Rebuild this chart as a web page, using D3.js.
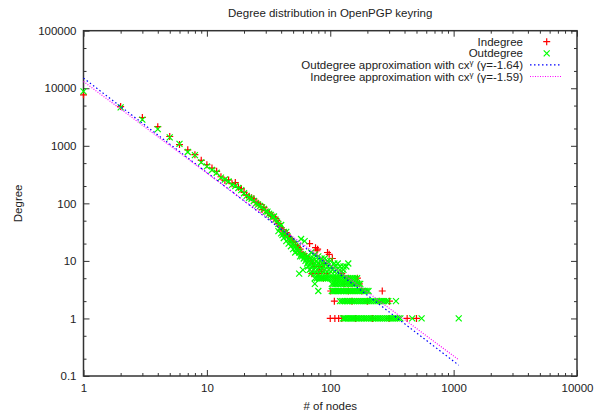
<!DOCTYPE html>
<html>
<head>
<meta charset="utf-8">
<script src="https://cdn.jsdelivr.net/npm/d3@7"></script>
<style>
  body { margin: 0; background: #fff; }
  text { font-family: "Liberation Sans", Arial, sans-serif; fill: #222; }
</style>
</head>
<body>
<div id="chart"></div>
<script>
// axis ticks
var xMajor = [1, 10, 100, 1000, 10000];
var yMajor = [0.1, 1, 10, 100, 1000, 10000, 100000];

// indegree points, [degree, count]
var inHead = [
  [1, 7700], [2, 4800], [3, 3100], [4, 2150], [5, 1450], [6, 1050], [7, 850], [8, 700], [9, 560], [10, 470],
  [11, 410], [12, 360], [13, 290], [14, 250], [15, 255], [16, 220], [17, 230], [18, 190], [19, 180], [20, 155],
  [21, 140], [22, 130], [23, 125], [24, 120], [25, 105], [26, 100], [27, 95], [28, 78], [29, 85], [30, 75],
  [31, 70], [32, 68], [33, 62], [34, 60], [35, 58], [36, 55], [37, 50], [38, 45], [39, 40], [40, 38],
  [41, 35], [42, 33], [43, 30], [44, 31], [45, 28], [46, 26], [47, 25], [48, 24], [49, 22], [50, 21],
  [52, 19], [54, 18], [55, 17], [57, 16], [58, 14], [60, 13], [62, 12], [64, 12], [66, 11], [68, 20],
  [70, 10], [71, 6], [72, 9], [74, 8], [76, 17], [78, 15], [79, 16], [80, 6], [82, 8], [85, 7],
  [88, 5], [90, 9], [94, 6], [95, 14], [98, 13], [104, 11], [110, 5], [124, 6], [140, 5], [166, 5]
];
var inY4 = [130, 150, 172];
var inY3 = [101, 140, 180, 264];
var inY2 = [108, 150, 200, 250, 302];
var inY1 = [100, 109, 117, 124, 160, 220, 300, 420, 500];

// outdegree points, [degree, count]
var outHead = [
  [1, 8800], [2, 4650], [3, 2850], [4, 1950], [5, 1400], [6, 1080], [7, 780], [8, 690], [9, 515], [10, 440],
  [11, 380], [12, 340], [13, 280], [14, 260], [15, 240], [16, 210], [17, 200], [18, 185], [19, 170], [20, 150],
  [21, 135], [22, 125], [23, 120], [24, 110], [25, 100], [26, 95], [27, 90], [28, 85], [29, 80], [30, 72],
  [31, 72], [32, 66], [33, 63], [34, 58], [35, 59], [36, 52], [37, 48], [38, 44], [39, 37], [40, 42],
  [41, 28], [42, 32], [43, 30], [44, 32], [45, 27], [46, 24], [47, 23], [48, 22], [49, 21], [50, 20],
  [51, 19], [52, 18], [53, 16], [54, 17], [55, 15], [56, 14], [58, 13], [59, 12], [60, 13],
  [38, 33], [40, 30], [42, 25], [44, 22], [46, 20], [48, 18], [50, 16], [52, 14], [58, 24], [62, 22],
  [70, 14], [75, 13], [80, 12], [85, 11], [90, 11], [95, 10], [100, 10], [108, 9], [115, 9], [120, 8],
  [57, 12], [62, 12], [66, 12], [61, 11], [64, 11], [68, 11], [73, 11],
  [63, 10], [67, 10], [72, 10], [77, 10], [83, 10],
  [65, 9], [70, 9], [75, 9], [80, 9], [86, 9], [92, 9], [140, 9],
  [66, 8], [71, 8], [76, 8], [82, 8], [88, 8], [95, 8], [102, 8], [110, 8], [128, 8], [135, 8],
  [60, 7], [68, 7], [73, 7], [78, 7], [84, 7], [90, 7], [97, 7], [104, 7], [112, 7], [120, 7], [128, 7],
  [56, 6], [70, 6], [75, 6], [80, 6], [86, 6], [92, 6], [98, 6], [105, 6], [112, 6], [119, 6], [126, 6]
];
var outY5 = [75, 78, 81, 84, 87, 90, 93, 96, 100, 104, 108, 112, 116, 120, 125, 130, 135, 140, 146, 152, 158, 165];
var outY4 = [75, 103, 106, 109, 112, 115, 119, 123, 127, 131, 135, 140, 145, 150, 155, 160, 165, 170, 175];
var outY3 = [80, 103, 106, 109, 112, 115, 118, 122, 126, 130, 134, 138, 143, 148, 153, 158, 164, 170, 176, 183, 190, 197, 204];
var outY2 = [120, 124, 128, 132, 136, 140, 145, 150, 155, 160, 166, 172, 178, 185, 192, 199, 207, 215, 224, 233,
  242, 252, 262, 273, 284, 295, 341];
var outY1 = [127, 130, 133, 136, 140, 144, 148, 152, 156, 161, 166, 171, 176, 182, 188, 194, 200, 207, 214, 221,
  228, 236, 244, 252, 261, 270, 280, 290, 300, 311, 322, 334, 346, 358, 370, 462, 550, 1100];

// fitted power laws c * x^gamma, drawn over this degree range
var fitRange = [1, 1100];
var outFit = { c: 15000, gamma: -1.64 };
var inFit = { c: 13100, gamma: -1.59 };

var indegree = inHead
  .concat(inY4.map((d) => [d, 4]), inY3.map((d) => [d, 3]), inY2.map((d) => [d, 2]), inY1.map((d) => [d, 1]));
var outdegree = outHead
  .concat(outY5.map((d) => [d, 5]), outY4.map((d) => [d, 4]), outY3.map((d) => [d, 3]),
    outY2.map((d) => [d, 2]), outY1.map((d) => [d, 1]));

var W = 595, H = 411;
var FS = "11.5px";
// plot box (note: "top" is taken by window.top)
var pL = 83.5, pR = 577, pT = 30.7, pB = 376;

var svg = d3.select("#chart").append("svg")
  .attr("width", W)
  .attr("height", H)
  .style("font-size", FS);

var x = d3.scaleLog().domain([1, 10000]).range([pL, pR]);
var y = d3.scaleLog().domain([0.1, 100000]).range([pB, pT]);

var xMinor = x.ticks().filter((d) => xMajor.indexOf(d) < 0);
var yMinor = y.ticks().filter((d) => {
  var m = +d3.format(".0e")(d).charAt(0);
  return m == 2 || m == 5;
});

var fmt = (d) => String(d);

function axisGroup(axis, tx, ty) {
  var g = svg.append("g").attr("transform", "translate(" + tx + "," + ty + ")").call(axis);
  g.select(".domain").remove();
  g.selectAll("line").attr("stroke", "#333");
  g.selectAll("text").attr("fill", "#222").style("font-family", "Liberation Sans, Arial, sans-serif").style("font-size", FS);
  return g;
}

// bottom / left with labels, top / right mirrored
axisGroup(d3.axisBottom(x).tickValues(xMajor).tickSize(-6).tickPadding(8).tickFormat(fmt), 0, pB);
axisGroup(d3.axisBottom(x).tickValues(xMinor).tickSize(-3).tickFormat(""), 0, pB);
axisGroup(d3.axisTop(x).tickValues(xMajor).tickSize(-6).tickFormat(""), 0, pT);
axisGroup(d3.axisTop(x).tickValues(xMinor).tickSize(-3).tickFormat(""), 0, pT);
axisGroup(d3.axisLeft(y).tickValues(yMajor).tickSize(-6).tickPadding(7).tickFormat(fmt), pL, 0);
axisGroup(d3.axisLeft(y).tickValues(yMinor).tickSize(-3).tickFormat(""), pL, 0);
axisGroup(d3.axisRight(y).tickValues(yMajor).tickSize(-6).tickFormat(""), pR, 0);
axisGroup(d3.axisRight(y).tickValues(yMinor).tickSize(-3).tickFormat(""), pR, 0);

svg.append("rect")
  .attr("x", pL).attr("y", pT)
  .attr("width", pR - pL).attr("height", pB - pT)
  .attr("fill", "none").attr("stroke", "#333").attr("stroke-width", 1.5);

// titles
svg.append("text").attr("x", (pL + pR) / 2).attr("y", 17).attr("text-anchor", "middle")
  .text("Degree distribution in OpenPGP keyring");
svg.append("text").attr("x", (pL + pR) / 2).attr("y", 410).attr("text-anchor", "middle")
  .text("# of nodes");
svg.append("text").attr("transform", "translate(22," + (pT + pB) / 2 + ") rotate(-90)")
  .attr("text-anchor", "middle").text("Degree");

function plus(g, cx, cy, s) {
  g.append("path")
    .attr("d", "M" + (cx - s) + "," + cy + "H" + (cx + s) + "M" + cx + "," + (cy - s) + "V" + (cy + s))
    .attr("stroke", "#ff0000").attr("stroke-width", 1.2).attr("fill", "none");
}
function cross(g, cx, cy, s) {
  g.append("path")
    .attr("d", "M" + (cx - s) + "," + (cy - s) + "L" + (cx + s) + "," + (cy + s) +
      "M" + (cx - s) + "," + (cy + s) + "L" + (cx + s) + "," + (cy - s))
    .attr("stroke", "#00ff00").attr("stroke-width", 1.2).attr("fill", "none");
}

var marks = svg.append("g");
indegree.forEach((d) => plus(marks, x(d[0]), y(d[1]), 3.5));
outdegree.forEach((d) => cross(marks, x(d[0]), y(d[1]), 3));

var line = d3.line().x((d) => x(d[0])).y((d) => y(d[1]));
function fitLine(f, color, dash) {
  svg.append("path")
    .datum(fitRange.map((v) => [v, f.c * Math.pow(v, f.gamma)]))
    .attr("d", line)
    .attr("fill", "none")
    .attr("stroke", color)
    .attr("stroke-width", 1.2)
    .attr("stroke-dasharray", dash);
}
fitLine(outFit, "#0000ff", "1.5,2.5");
fitLine(inFit, "#ff00ff", "1,1.5");

// legend
var legend = svg.append("g");
var rows = [41.7, 53.3, 64.9, 76.5];
var tx = 523, sx = 546.7;
legend.append("text").attr("x", tx).attr("y", rows[0]).attr("dy", "0.35em").attr("text-anchor", "end").text("Indegree");
plus(legend, sx, rows[0], 3.5);
legend.append("text").attr("x", tx).attr("y", rows[1]).attr("dy", "0.35em").attr("text-anchor", "end").text("Outdegree");
cross(legend, sx, rows[1], 3);

function fitLabel(name, f, ry, color, dash) {
  var t = legend.append("text").attr("x", tx).attr("y", ry + 4).attr("text-anchor", "end");
  t.append("tspan").text(name + " approximation with cx");
  t.append("tspan").attr("dy", -4).style("font-size", "8px").text("\u03b3");
  t.append("tspan").attr("dy", 4).text(" (\u03b3=" + f.gamma + ")");
  legend.append("line").attr("x1", 530).attr("x2", 562).attr("y1", ry).attr("y2", ry)
    .attr("stroke", color).attr("stroke-width", 1.2).attr("stroke-dasharray", dash);
}
fitLabel("Outdegree", outFit, rows[2], "#0000ff", "1.5,2.5");
fitLabel("Indegree", inFit, rows[3], "#ff00ff", "1,1.5");
</script>
</body>
</html>
